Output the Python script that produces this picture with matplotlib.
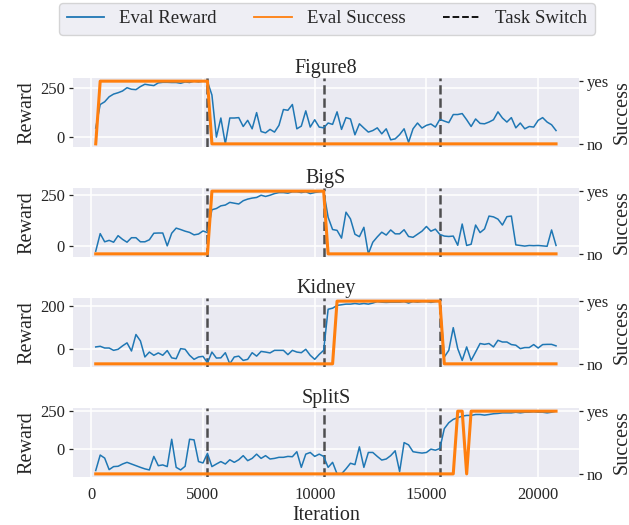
import numpy as np
import matplotlib
matplotlib.use("Agg")
import matplotlib.pyplot as plt
from matplotlib.lines import Line2D

# ---------------- data ----------------
iterations = np.arange(200, 20801, 200)          # evaluation every 200 iterations
task_switches = [5200, 10400, 15600]
env_names = ["Figure8", "BigS", "Kidney", "SplitS"]

reward_figure8 = [
    44, 166, 180, 206, 220, 227, 236, 253, 245, 243, 259, 271, 267, 264, 278, 281, 281, 280, 280, 276, 283, 280, 287, 283, 287, 285,
    215, -3, 96, -38, 96, 96, 98, 52, 84, 40, 124, 26, 19, 37, 23, 58, 140, 136, 166, 40, 54, 133, 49, 87, 49, 45,
    70, 63, 128, 37, 98, 91, 9, 66, 44, 23, 31, 45, 14, 40, -17, -12, 10, 40, -30, 40, 70, 44, 58, 65, 49, 89,
    80, 72, 114, 114, 119, 87, 52, 91, 68, 66, 75, 87, 128, 96, 75, 98, 45, 70, 40, 52, 49, 84, 98, 75, 61, 31,
]
reward_bigs = [
    -26, 60, 20, 27, 18, 50, 32, 18, 40, 40, 20, 20, 30, 62, 63, 63, 0, 62, 87, 80, 72, 66, 54, 58, 73, 65,
    177, 183, 196, 200, 213, 209, 205, 221, 229, 234, 237, 248, 242, 248, 256, 261, 261, 258, 265, 265, 261, 265, 256, 261, 265, 268,
    140, 80, 76, 38, 165, 132, 57, 45, 91, -39, 18, 44, 67, 53, 78, 59, 59, 79, 46, 42, 57, 72, 95, 72, 82, 56,
    48, 46, 48, 3, 107, 2, 8, 102, 65, 83, 146, 142, 131, 102, 143, 146, 5, 2, -1, 2, 1, 2, 0, -2, 78, 2,
]
reward_kidney = [
    8, 11, 3, 3, -8, -3, 13, 27, -11, 66, 36, -39, -16, -31, -20, -31, -9, -43, -47, 0, -3, -31, -50, -39, -36, -66,
    -16, -44, -43, -19, -71, -39, -35, -55, -50, -19, -35, -13, -16, -20, -8, -8, -8, -28, -8, -16, -19, -3, -31, -50, -27, -8,
    184, 189, 202, 205, 208, 208, 211, 208, 211, 208, 213, 220, 217, 216, 217, 217, 217, 220, 213, 220, 217, 220, 220, 216, 220, 222,
    -39, -8, 98, 0, -55, 8, -55, -16, 24, 20, 24, 8, 39, 31, 31, 19, 16, 0, 5, 5, 19, 3, 19, 20, 20, 13,
]
reward_splits = [
    -141, -39, -59, -135, -115, -113, -98, -87, -98, -109, -120, -130, -137, -48, -109, -104, -115, 65, -120, -137, -113, 65, 61, -82, -91, -28,
    -115, -98, -82, -98, -70, -87, -70, -43, -76, -61, -33, -61, -43, -65, -61, -54, -54, -48, -50, -17, -120, -33, -22, -48, -33, -48,
    -120, -87, -163, -163, -130, -93, -102, 15, -120, -22, -22, -48, -72, -65, -43, -11, -148, 43, 28, -17, -22, -26, -22, 0, -7, 4,
    135, 174, 196, 207, 217, 222, 222, 228, 228, 224, 228, 233, 235, 239, 239, 239, 243, 239, 243, 243, 246, 243, 243, 239, 243, 250,
]

success_figure8 = [0] * 1 + [1] * 25 + [0] * 78
success_bigs = [0] * 26 + [1] * 26 + [0] * 52
success_kidney = [0] * 54 + [1] * 24 + [0] * 26
success_splits = [0] * 81 + [1] * 2 + [0] * 1 + [1] * 20

rewards = [reward_figure8, reward_bigs, reward_kidney, reward_splits]
successes = [success_figure8, success_bigs, success_kidney, success_splits]
reward_ticks = [[0, 250], [0, 250], [0, 200], [0, 250]]
x_ticks = [0, 5000, 10000, 15000, 20000]

# ---------------- style ----------------
plt.rcParams["font.family"] = ["Liberation Serif", "DejaVu Serif"]
plt.rcParams["text.color"] = "0.15"
plt.rcParams["axes.labelcolor"] = "0.15"
plt.rcParams["xtick.color"] = "0.15"
plt.rcParams["ytick.color"] = "0.15"

BLUE = "#1f77b4"
ORANGE = "#ff7f0e"
BG = "#EAEAF2"
LABEL_FS = 14.5
TICK_FS = 12
LEGEND_FS = 13.5

fig = plt.figure(figsize=(6.29, 5.25), dpi=100)

left, width, height = 0.1156, 0.805, 0.1314
bottoms = [0.720, 0.5105, 0.301, 0.0914]

axes = []
for i, (name, rew, suc) in enumerate(zip(env_names, rewards, successes)):
    ax = fig.add_axes([left, bottoms[i], width, height], sharex=axes[0] if axes else None)
    axes.append(ax)
    ax.set_facecolor(BG)
    for s in ax.spines.values():
        s.set_visible(False)
    ax.grid(True, color="white", linewidth=1.1)
    ax.set_axisbelow(True)

    ax.plot(iterations, rew, color=BLUE, linewidth=1.1, zorder=3)
    for ts in task_switches:
        ax.axvline(ts, color="#333333", linestyle="--", linewidth=1.8, alpha=0.85, zorder=2)
    ax.set_yticks(reward_ticks[i])
    ax.set_ylabel("Reward", fontsize=LABEL_FS, labelpad=3)
    ax.set_title(name, fontsize=LABEL_FS, pad=3)
    ax.tick_params(axis="y", labelsize=TICK_FS, length=3, width=0.9, pad=2.5)

    ax2 = ax.twinx()
    for s in ax2.spines.values():
        s.set_visible(False)
    ax2.grid(False)
    ax2.plot(iterations, suc, color=ORANGE, linewidth=2.2, zorder=4)
    ax2.set_yticks([0, 1])
    ax2.set_yticklabels(["no", "yes"])
    ax2.set_ylabel("Success", fontsize=LABEL_FS, labelpad=3)
    ax2.tick_params(axis="y", labelsize=TICK_FS, length=3, width=0.9, pad=2.5)

    ax.set_xticks(x_ticks)
    if i < 3:
        ax.tick_params(axis="x", labelbottom=False, length=0)
    else:
        ax.tick_params(axis="x", labelsize=TICK_FS, length=0, pad=7)
        ax.set_xlabel("Iteration", fontsize=LABEL_FS, labelpad=2)

handles = [
    Line2D([], [], color=BLUE, linewidth=1.3),
    Line2D([], [], color=ORANGE, linewidth=1.3),
    Line2D([], [], color="black", linestyle="--", linewidth=1.3),
]
fig.legend(handles, ["Eval Reward", "Eval Success", "Task Switch"],
           loc="upper center", bbox_to_anchor=(0.52, 1.0), ncol=3,
           fontsize=LEGEND_FS, frameon=True, facecolor=BG, edgecolor="0.8",
           fancybox=True, columnspacing=2.0, handlelength=2.0,
           borderaxespad=0.15)

fig.savefig("out.png", dpi=100)
